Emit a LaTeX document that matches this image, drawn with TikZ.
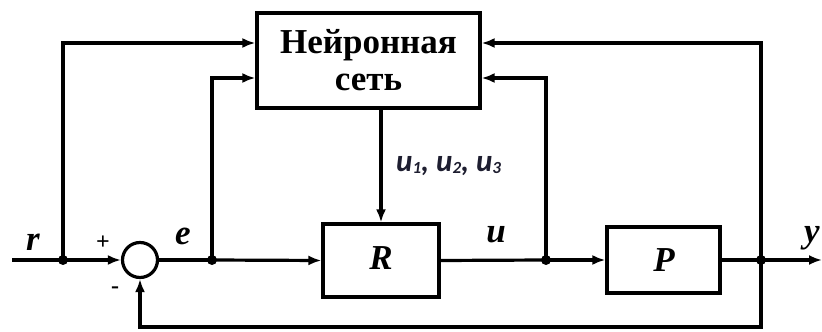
\documentclass[tikz,border=0pt]{standalone}
\usepackage{fontspec}
\setmainfont{Liberation Serif}
\newfontfamily\subfont{Carlito}
\usetikzlibrary{arrows.meta,calc}
\definecolor{ctrlink}{HTML}{1E1E30}
\tikzset{
  wire/.style={line width=3.2pt, line join=miter},
  arr/.style={wire, -{Latex[length=13pt,width=10pt]}},
  blockbox/.style={draw, line width=3.2pt, rectangle, inner sep=0pt},
  dot/.style={circle, fill, inner sep=0pt, minimum size=10pt},
  sym/.style={font=\fontsize{35}{40}\selectfont\bfseries\itshape, inner sep=0pt, anchor=base},
  sgn/.style={font=\fontsize{24}{26}\selectfont\bfseries, inner sep=0pt},
}
\begin{document}
\begin{tikzpicture}[x=1pt,y=1pt]
  \useasboundingbox (0,0) rectangle (822,332);

  % blocks
  \node[blockbox, minimum width=223pt, minimum height=95pt, align=center,
        font=\fontsize{35}{37}\selectfont\bfseries] (NN) at (368.5,271.5)
        {Нейронная\\сеть};
  \node[blockbox, minimum width=116pt, minimum height=73pt] (R) at (381,71.5) {};
  \node[blockbox, minimum width=113pt, minimum height=66pt] (P) at (663.5,72) {};
  \node[draw, line width=3.2pt, circle, minimum size=35pt, inner sep=0pt] (sum) at (140,72) {};

  % branch points on the main line
  \coordinate (in) at (12,72);
  \node[dot] (j1) at (63,72) {};
  \node[dot] (j2) at (212,72) {};
  \node[dot] (j3) at (546,72) {};
  \node[dot] (j4) at (761,72) {};
  \coordinate (out) at (822,72);
  \coordinate (fb) at (761,5);

  % forward path
  \draw[arr] (in) -- (sum.west);
  \draw[wire] (sum.east) -- (j2.center);
  \draw[arr] (j2.center) -- (R.west);
  \draw[wire] (R.east) -- (j3.center);
  \draw[arr] (j3.center) -- (P.west);
  \draw[arr] (P.east) -- (out);

  % feedback to the summing junction
  \draw[arr] (j4.center) -- (fb) -| (sum.south);

  % signals into the neural network
  \draw[arr] (j1.center) |- ([yshift=17.5pt]NN.west);
  \draw[arr] (j2.center) |- ([yshift=-17.5pt]NN.west);
  \draw[arr] (j4.center) |- ([yshift=17.5pt]NN.east);
  \draw[arr] (j3.center) |- ([yshift=-17.5pt]NN.east);

  % network output to the controller
  \draw[arr] (R.north |- NN.south) -- (R.north);

  % labels
  \node[sym] (lr) at (33,81) {r};
  \node[sym] (le) at (183,87) {e};
  \node[sym] (lu) at (496,89) {u};
  \node[sym] (ly) at (812,89) {y};
  \node[sym] (lR) at (381,62) {R};
  \node[sym] (lP) at (664,60) {P};
  \node[sgn] (plus) at (103,89) {+};
  \node[sgn] (minus) at (115,42) {-};
  \node[anchor=base west, inner sep=0pt, text=ctrlink,
        font=\fontsize{31}{33}\selectfont\subfont\bfseries\itshape] (lk) at (396,160)
        {u{\fontsize{17}{18}\selectfont\raisebox{-2pt}{1}}, u{\fontsize{17}{18}\selectfont\raisebox{-2pt}{2}}, u{\fontsize{17}{18}\selectfont\raisebox{-2pt}{3}}};
\end{tikzpicture}
\end{document}
